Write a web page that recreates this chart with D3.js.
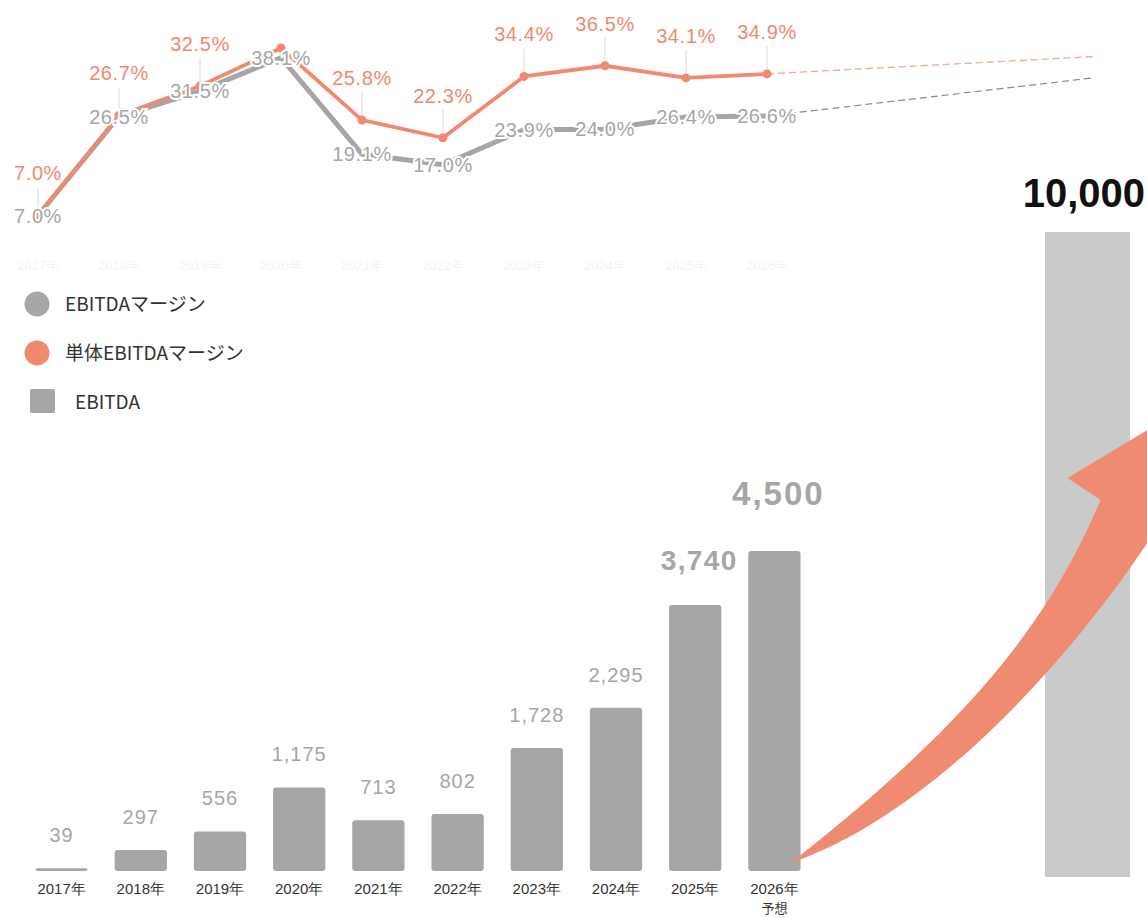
<!DOCTYPE html>
<html>
<head>
<meta charset="utf-8">
<script src="https://cdn.jsdelivr.net/npm/d3@7"></script>
<style>
  body { margin: 0; background: #fff; }
  svg { display: block; }
</style>
</head>
<body>
<svg id="chart" width="1147" height="918"></svg>
<script>
// data
var years = ["2017", "2018", "2019", "2020", "2021", "2022", "2023", "2024", "2025", "2026"];
var ebitda = [39, 297, 556, 1175, 713, 802, 1728, 2295, 3740, 4500];
var margin = [7.0, 26.5, 31.5, 38.1, 19.1, 17.0, 23.9, 24.0, 26.4, 26.6];
var soloMargin = [7.0, 26.7, 32.5, 40.0, 25.8, 22.3, 34.4, 36.5, 34.1, 34.9];
var soloLabelShown = [true, true, true, false, true, true, true, true, true, true];
var bigYears = ["2025", "2026"];
var targetValue = 10000;
var soloProjection = 38.3;
var marginProjection = 34.1;

var colors = {
  gray: "#a6a6a6",
  orange: "#f0896e",
  arrow: "#f08b73",
  target: "#cacaca",
  text: "#333"
};
var numFont = "'Liberation Sans', Arial, sans-serif";
var jpFont = "'Noto Sans CJK JP', 'Noto Sans', sans-serif";

var svg = d3.select("#chart");

// ---------- margin lines (top) ----------
var xLine = d3.scalePoint().domain(years).range([38, 767]);
var yLine = d3.scaleLinear().domain([0, 40]).range([251, 48]);

var line = d3.line()
  .x(function (d, i) { return xLine(years[i]); })
  .y(function (d) { return yLine(d); });

var lineG = svg.append("g");

// faint category labels under the lines
lineG.selectAll(".faint")
  .data(years)
  .enter()
  .append("text")
  .attr("x", function (d) { return xLine(d); })
  .attr("y", 270)
  .attr("text-anchor", "middle")
  .attr("font-family", numFont)
  .attr("font-size", 13)
  .attr("fill", "#f3f3f3")
  .text(function (d) { return d + "年"; });

// dashed projections
var lastYear = years[years.length - 1];
var projX = xLine(lastYear) + xLine.step() * 4.02;
lineG.append("line")
  .attr("x1", xLine(lastYear))
  .attr("y1", yLine(soloMargin[soloMargin.length - 1]))
  .attr("x2", projX)
  .attr("y2", yLine(soloProjection))
  .attr("stroke", "#f5a790")
  .attr("stroke-width", 1.3)
  .attr("stroke-dasharray", "7,4");
lineG.append("line")
  .attr("x1", xLine(lastYear))
  .attr("y1", yLine(margin[margin.length - 1]))
  .attr("x2", projX)
  .attr("y2", yLine(marginProjection))
  .attr("stroke", "#8a8a8a")
  .attr("stroke-width", 1.2)
  .attr("stroke-dasharray", "7,4");

lineG.append("path")
  .attr("d", line(margin))
  .attr("fill", "none")
  .attr("stroke", colors.gray)
  .attr("stroke-width", 5);

lineG.append("path")
  .attr("d", line(soloMargin))
  .attr("fill", "none")
  .attr("stroke", colors.orange)
  .attr("stroke-width", 3.8);

lineG.selectAll(".dot")
  .data(soloMargin)
  .enter()
  .append("circle")
  .attr("cx", function (d, i) { return xLine(years[i]); })
  .attr("cy", function (d) { return yLine(d); })
  .attr("r", 4.5)
  .attr("fill", colors.orange);

// orange labels only where the reference shows them
var soloLabelled = soloMargin
  .map(function (v, i) { return { year: years[i], value: v }; })
  .filter(function (d, i) { return soloLabelShown[i]; });

lineG.selectAll(".leader")
  .data(soloLabelled)
  .enter()
  .append("line")
  .attr("x1", function (d) { return xLine(d.year); })
  .attr("x2", function (d) { return xLine(d.year); })
  .attr("y1", function (d) { return yLine(d.value) - 28; })
  .attr("y2", function (d) { return yLine(d.value) - 5; })
  .attr("stroke", "#e6e6e6")
  .attr("stroke-width", 1.5);

// gray labels sit on the points with a white halo
lineG.selectAll(".glabel")
  .data(margin)
  .enter()
  .append("text")
  .attr("x", function (d, i) { return xLine(years[i]); })
  .attr("y", function (d) { return yLine(d); })
  .attr("dy", "0.36em")
  .attr("text-anchor", "middle")
  .attr("font-family", numFont)
  .attr("font-size", 20)
  .attr("letter-spacing", 0.6)
  .attr("fill", colors.gray)
  .attr("stroke", "#fff")
  .attr("stroke-width", 4)
  .attr("paint-order", "stroke")
  .text(function (d) { return d.toFixed(1) + "%"; });

lineG.selectAll(".olabel")
  .data(soloLabelled)
  .enter()
  .append("text")
  .attr("x", function (d) { return xLine(d.year); })
  .attr("y", function (d) { return yLine(d.value) - 35; })
  .attr("text-anchor", "middle")
  .attr("font-family", numFont)
  .attr("font-size", 20)
  .attr("letter-spacing", 0.6)
  .attr("fill", colors.orange)
  .text(function (d) { return d.value.toFixed(1) + "%"; });

// ---------- legend ----------
var legendItems = [
  { label: "EBITDAマージン", color: colors.gray, shape: "circle" },
  { label: "単体EBITDAマージン", color: colors.orange, shape: "circle" },
  { label: "EBITDA", color: colors.gray, shape: "square" }
];
var legend = svg.append("g").selectAll("g")
  .data(legendItems)
  .enter()
  .append("g")
  .attr("transform", function (d, i) { return "translate(0," + (304 + i * 49) + ")"; });

legend.filter(function (d) { return d.shape === "circle"; })
  .append("circle")
  .attr("cx", 37)
  .attr("r", 12.5)
  .attr("fill", function (d) { return d.color; });
legend.filter(function (d) { return d.shape === "square"; })
  .append("rect")
  .attr("x", 30)
  .attr("y", -13)
  .attr("width", 25)
  .attr("height", 24)
  .attr("rx", 2)
  .attr("fill", function (d) { return d.color; });
legend.append("text")
  .attr("x", function (d) { return d.shape === "square" ? 75 : 65; })
  .attr("dy", "0.35em")
  .attr("font-family", jpFont)
  .attr("font-size", 19)
  .attr("fill", colors.text)
  .text(function (d) { return d.label; });

// ---------- EBITDA bars (bottom) ----------
var xBar = d3.scaleBand().domain(years).range([22, 814]).paddingInner(0.34).paddingOuter(0.17);
var yBar = d3.scaleLinear().domain([0, 4500]).range([871, 551]);
var isBig = function (i) { return bigYears.indexOf(years[i]) >= 0; };
var isLast = function (i) { return years[i] === lastYear; };

var bars = svg.append("g");
bars.selectAll("rect")
  .data(ebitda)
  .enter()
  .append("rect")
  .attr("x", function (d, i) { return xBar(years[i]); })
  .attr("y", function (d) { return yBar(d); })
  .attr("width", xBar.bandwidth())
  .attr("height", function (d) { return yBar(0) - yBar(d); })
  .attr("rx", 3)
  .attr("fill", colors.gray);

bars.selectAll(".vlabel")
  .data(ebitda)
  .enter()
  .append("text")
  .attr("x", function (d, i) { return xBar(years[i]) + xBar.bandwidth() / 2 + (isBig(i) ? 4 : 0); })
  .attr("y", function (d, i) { return yBar(d) - (isLast(i) ? 46 : isBig(i) ? 35 : 26); })
  .attr("text-anchor", "middle")
  .attr("font-family", numFont)
  .attr("font-size", function (d, i) { return isLast(i) ? 33 : isBig(i) ? 28 : 20; })
  .attr("letter-spacing", function (d, i) { return isLast(i) ? 2 : isBig(i) ? 1.4 : 1; })
  .attr("font-weight", function (d, i) { return isBig(i) ? "bold" : "normal"; })
  .attr("fill", colors.gray)
  .text(function (d) { return d3.format(",")(d); });

var xAxis = svg.append("g")
  .attr("transform", "translate(0," + yBar(0) + ")")
  .call(d3.axisBottom(xBar).tickSize(0).tickPadding(12).tickFormat(function (d) { return d + "年"; }));
xAxis.select(".domain").remove();
xAxis.selectAll("text")
  .attr("font-family", numFont)
  .attr("font-size", 15)
  .attr("fill", colors.text);

svg.append("text")
  .attr("x", xBar(lastYear) + xBar.bandwidth() / 2)
  .attr("y", 913)
  .attr("text-anchor", "middle")
  .attr("font-family", jpFont)
  .attr("font-size", 13)
  .attr("fill", colors.text)
  .text("予想");

// ---------- target bar ----------
var yTarget = d3.scaleLinear().domain([0, targetValue]).range([877, 232]);
var targetX = 1045, targetW = 85;
svg.append("rect")
  .attr("x", targetX)
  .attr("y", yTarget(targetValue))
  .attr("width", targetW)
  .attr("height", yTarget(0) - yTarget(targetValue))
  .attr("fill", colors.target);
svg.append("text")
  .attr("x", 1145)
  .attr("y", yTarget(targetValue) - 25)
  .attr("text-anchor", "end")
  .attr("font-family", numFont)
  .attr("font-size", 40)
  .attr("font-weight", "bold")
  .attr("fill", "#111")
  .text(d3.format(",")(targetValue));

// ---------- growth arrow from 2026 bar to target ----------
var tx = xBar(lastYear) + xBar.bandwidth() - 10, ty = yBar(0) - 8;
var p = d3.path();
p.moveTo(tx, ty);
p.bezierCurveTo(tx + 140, ty - 48, tx + 280, ty - 203, tx + 360, ty - 325);
p.lineTo(tx + 420, ty - 400);
p.lineTo(tx + 410, ty - 465);
p.lineTo(tx + 277, ty - 385);
p.lineTo(tx + 310, ty - 363);
p.bezierCurveTo(tx + 255, ty - 233, tx + 170, ty - 133, tx, ty);
p.closePath();
svg.append("path")
  .attr("d", p.toString())
  .attr("fill", colors.arrow);
</script>
</body>
</html>
